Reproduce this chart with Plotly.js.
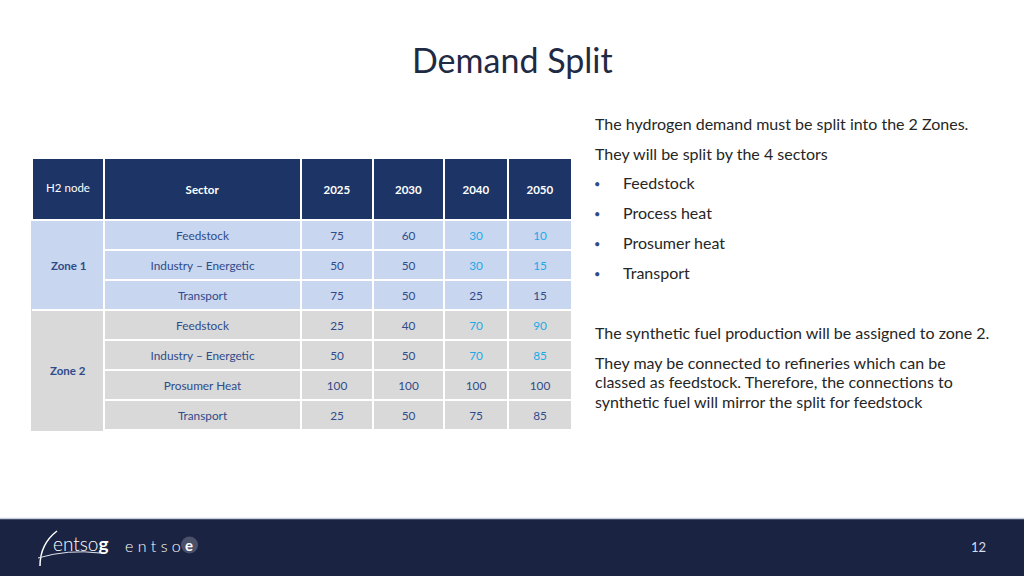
<!DOCTYPE html>
<html><head><meta charset="utf-8">
<script src="https://cdn.plot.ly/plotly-3.0.1.min.js"></script>
<style>html,body{margin:0;padding:0;background:#fff;}#chart{width:1024px;height:576px;}</style>
</head><body><div id="chart"></div>
<script>
// ---- data ----
const years = ['2025', '2030', '2040', '2050'];
const zones = ['Zone 1', 'Zone 1', 'Zone 1', 'Zone 2', 'Zone 2', 'Zone 2', 'Zone 2'];
const sectors = ['Feedstock', 'Industry – Energetic', 'Transport', 'Feedstock', 'Industry – Energetic', 'Prosumer Heat', 'Transport'];
const v2025 = [75, 50, 75, 25, 50, 100, 25];
const v2030 = [60, 50, 50, 40, 50, 100, 50];
const v2040 = [30, 30, 25, 70, 70, 100, 75];
const v2050 = [10, 15, 15, 90, 85, 100, 85];
const highlightYears = ['2040', '2050'];
const highlightSectors = ['Feedstock', 'Industry – Energetic'];
const introLines = ['The hydrogen demand must be split into the 2 Zones.', 'They will be split by the 4 sectors'];
const bullets = ['Feedstock', 'Process heat', 'Prosumer heat', 'Transport'];
const noteLines = ['The synthetic fuel production will be assigned to zone 2.'];
const paraLines = ['They may be connected to refineries which can be', 'classed as feedstock. Therefore, the connections to', 'synthetic fuel will mirror the split for feedstock'];

// ---- style ----
const W = 1024, H = 576;
const FONT = 'Lato, "Open Sans", sans-serif';
const NAVY = '#1c3566', BLUE = '#c9d6ef', GRAY = '#d9d9d9', TXT = '#2f4b8a', CYAN = '#1aa9e6';
const TOP = 158, LEFT = 32, RIGHT = 572, HEAD_H = 62, ROW_H = 30;
const HDR_SHIFT = 17, CELL_SHIFT = 3;   // vertical centring of the (top-aligned) table text
const px = x => x / W, py = y => 1 - y / H;

const valueCols = [v2025, v2030, v2040, v2050];
const zoneFill = zones.map(z => z === 'Zone 1' ? BLUE : GRAY);
const fills = [zoneFill, zoneFill].concat(valueCols.map(() => zoneFill));
const fontColors = [zones.map(() => TXT), sectors.map(() => TXT)].concat(
  valueCols.map((col, ci) => col.map((v, ri) =>
    (highlightYears.includes(years[ci]) && highlightSectors.includes(sectors[ri])) ? CYAN : TXT)));
const lineColors = [zoneFill, sectors.map(() => '#ffffff')].concat(valueCols.map(col => col.map(() => '#ffffff')));
const colW = [72, 197, 72, 71, 64, 64];

const nRows = sectors.length;
const tableBottom = TOP + HEAD_H + ROW_H * nRows;
const CLEAR = 'rgba(0,0,0,0)';

// background table: fills and grid lines
const gridTable = {
  type: 'table',
  domain: {x: [px(LEFT), px(RIGHT)], y: [py(tableBottom + 8), py(TOP)]},
  columnwidth: colW,
  header: {
    values: years.concat(['', '']).map(() => ['']),
    fill: {color: NAVY},
    line: {color: '#ffffff', width: 2},
    font: {family: FONT, size: 11, color: CLEAR},
    height: HEAD_H
  },
  cells: {
    values: [zones.map(() => ''), sectors.map(() => '')].concat(valueCols.map(c => c.map(() => ''))),
    fill: {color: fills},
    line: {color: lineColors, width: 2},
    font: {family: FONT, size: 11, color: CLEAR},
    height: ROW_H
  }
};
// text table: same columns, transparent, carrying the labels and values
const textTable = {
  type: 'table',
  domain: {x: [px(LEFT), px(RIGHT)], y: [py(tableBottom + 8), py(TOP + HDR_SHIFT)]},
  columnwidth: colW,
  header: {
    values: [['H2 node'], ['<b>Sector</b>']].concat(years.map(y => ['<b>' + y + '</b>'])),
    fill: {color: CLEAR},
    line: {color: CLEAR, width: 0},
    font: {family: FONT, size: 11.5, color: '#ffffff'},
    align: 'center',
    height: HEAD_H - HDR_SHIFT + CELL_SHIFT
  },
  cells: {
    values: [zones.map(() => ''), sectors].concat(valueCols),
    fill: {color: CLEAR},
    line: {color: CLEAR, width: 0},
    font: {family: FONT, size: 11.8, color: fontColors},
    align: 'center',
    height: ROW_H
  }
};

const ann = [];
ann.push({text: 'Demand Split', x: 0.5, y: py(60), xref: 'paper', yref: 'paper', showarrow: false,
  font: {family: FONT, size: 34, color: '#1f2a44'}, xanchor: 'center', yanchor: 'middle'});
// zone labels (centred on each zone's rows)
[...new Set(zones)].forEach(z => {
  const idx = zones.map((v, i) => v === z ? i : -1).filter(i => i >= 0);
  const yc = TOP + HEAD_H + ROW_H * (idx[0] + idx[idx.length - 1] + 1) / 2;
  ann.push({text: '<b>' + z + '</b>', x: px((LEFT + 104) / 2), y: py(yc), xref: 'paper', yref: 'paper', showarrow: false,
    font: {family: FONT, size: 11.5, color: TXT}, xanchor: 'center', yanchor: 'middle'});
});
const textFont = {family: FONT, size: 16, color: '#262626'};
function line(t, y, x) {
  ann.push({text: t, x: px(x || 593), y: py(y), xref: 'paper', yref: 'paper', showarrow: false,
    font: textFont, xanchor: 'left', yanchor: 'middle'});
}
introLines.forEach((t, i) => line(t, 123.5 + i * 29.5));
bullets.forEach((t, i) => {
  const y = 182.5 + i * 30;
  ann.push({text: '•', x: px(592), y: py(y + 1), xref: 'paper', yref: 'paper', showarrow: false,
    font: {family: FONT, size: 11, color: TXT}, xanchor: 'left', yanchor: 'middle'});
  line(t, y, 621);
});
noteLines.forEach((t, i) => line(t, 332.5 + i * 30));
paraLines.forEach((t, i) => line(t, 362.5 + i * 19.3));
// footer
ann.push({text: '12', x: px(978), y: py(547), xref: 'paper', yref: 'paper', showarrow: false,
  font: {family: FONT, size: 13, color: '#d5dcea'}, xanchor: 'center', yanchor: 'middle'});
ann.push({text: 'entso<b>g</b>', x: px(51), y: py(543), xref: 'paper', yref: 'paper', showarrow: false,
  font: {family: FONT, size: 19, color: '#ffffff', weight: 300}, xanchor: 'left', yanchor: 'middle'});
ann.push({text: 'e n t s o', x: px(123), y: py(545), xref: 'paper', yref: 'paper', showarrow: false,
  font: {family: FONT, size: 16, color: '#ffffff', weight: 300}, xanchor: 'left', yanchor: 'middle'});
ann.push({text: '<b>e</b>', x: px(189), y: py(545), xref: 'paper', yref: 'paper', showarrow: false,
  font: {family: FONT, size: 15, color: '#ffffff'}, xanchor: 'center', yanchor: 'middle'});

const sepY = TOP + HEAD_H + ROW_H * (zones.lastIndexOf('Zone 1') + 1);
const shapes = [
  {type: 'rect', xref: 'paper', yref: 'paper', x0: 0, x1: 1, y0: 0, y1: py(519), fillcolor: '#1a2341', line: {width: 0}, layer: 'below'},
  {type: 'line', xref: 'paper', yref: 'paper', x0: 0, x1: 1, y0: py(518.5), y1: py(518.5), line: {color: '#c7cee0', width: 1.5}},
  {type: 'circle', xref: 'paper', yref: 'paper', x0: px(181), x1: px(198), y0: py(553.5), y1: py(536.5), fillcolor: '#4b5169', line: {width: 0}},
  {type: 'path', xref: 'paper', yref: 'paper', path: `M ${px(57)} ${py(531)} Q ${px(40)} ${py(544)} ${px(40)} ${py(566)}`, line: {color: '#ffffff', width: 1.5}},
  {type: 'path', xref: 'paper', yref: 'paper', path: `M ${px(38)} ${py(558)} Q ${px(68)} ${py(549)} ${px(100)} ${py(553)}`, line: {color: '#dfe3ee', width: 1}},
  // white separator between the two zones across the node column
  {type: 'line', xref: 'paper', yref: 'paper', x0: px(LEFT), x1: px(104), y0: py(sepY), y1: py(sepY), line: {color: '#ffffff', width: 2}}
];

const layout = {
  width: W, height: H,
  margin: {l: 0, r: 0, t: 0, b: 0},
  paper_bgcolor: '#ffffff',
  showlegend: false,
  annotations: ann,
  shapes: shapes
};
Plotly.newPlot('chart', [gridTable, textTable], layout, {displayModeBar: false, staticPlot: true});
</script>
</body></html>
